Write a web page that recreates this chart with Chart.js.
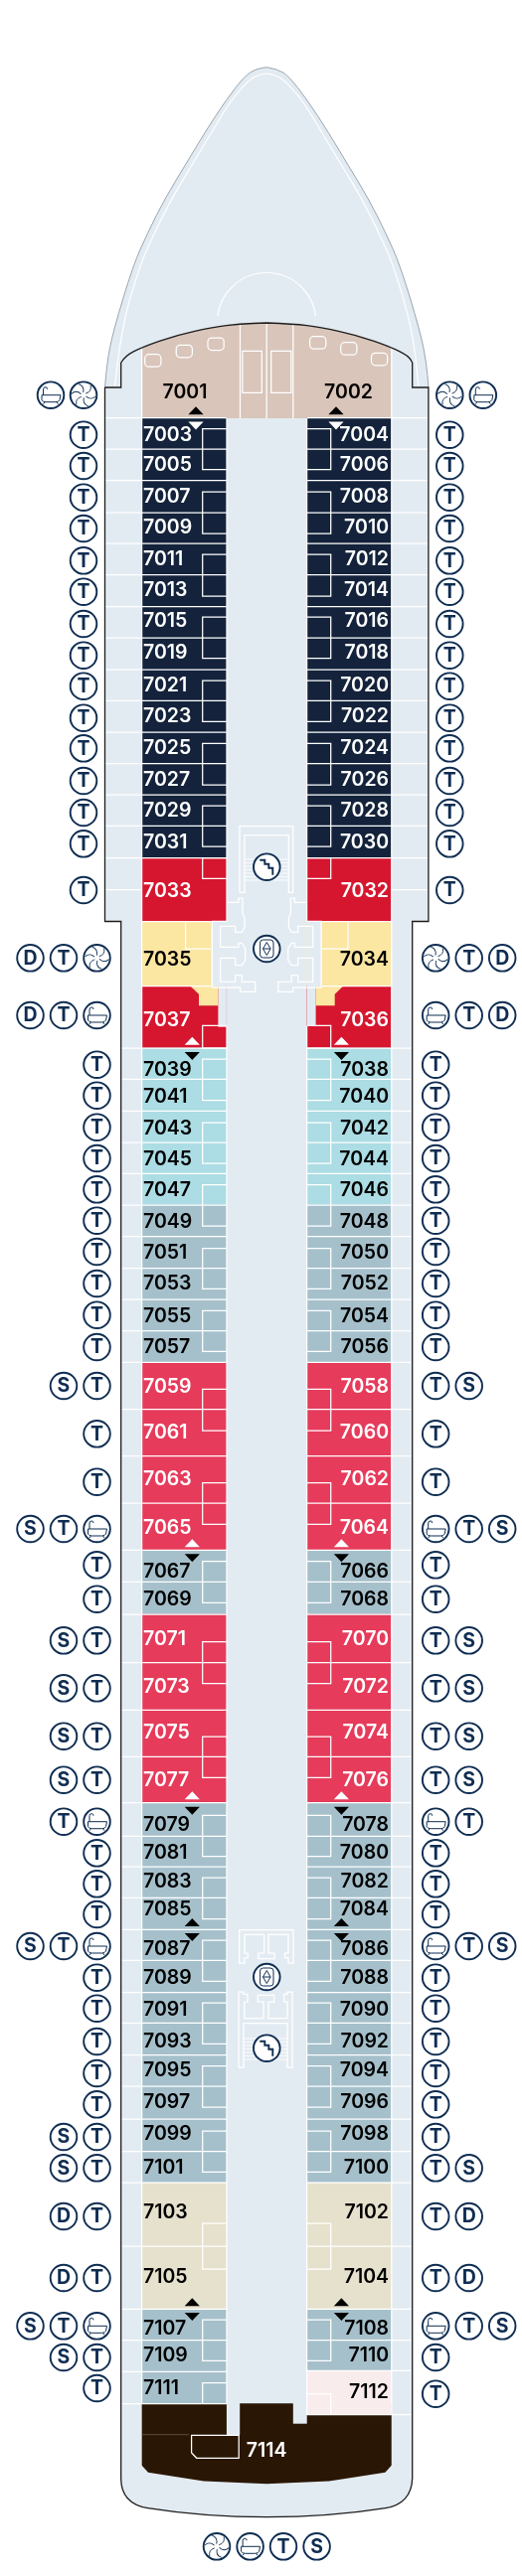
<!DOCTYPE html>
<html>
<head>
<meta charset="utf-8">
<title>Deck 7</title>
<script src="https://cdn.jsdelivr.net/npm/chart.js@4/dist/chart.umd.min.js"></script>
<style>
  html, body { margin: 0; padding: 0; background: #fff; }
  canvas { display: block; }
</style>
</head>
<body>
<canvas id="deck" width="525" height="2593"></canvas>
<script>
// cabins, top to bottom
const portCabins = [7001, 7003, 7005, 7007, 7009, 7011, 7013, 7015, 7019, 7021, 7023, 7025, 7027, 7029, 7031, 7033, 7035, 7037, 7039, 7041, 7043, 7045, 7047, 7049, 7051, 7053, 7055, 7057, 7059, 7061, 7063, 7065, 7067, 7069, 7071, 7073, 7075, 7077, 7079, 7081, 7083, 7085, 7087, 7089, 7091, 7093, 7095, 7097, 7099, 7101, 7103, 7105, 7107, 7109, 7111];
const starboardCabins = [7002, 7004, 7006, 7008, 7010, 7012, 7014, 7016, 7018, 7020, 7022, 7024, 7026, 7028, 7030, 7032, 7034, 7036, 7038, 7040, 7042, 7044, 7046, 7048, 7050, 7052, 7054, 7056, 7058, 7060, 7062, 7064, 7066, 7068, 7070, 7072, 7074, 7076, 7078, 7080, 7082, 7084, 7086, 7088, 7090, 7092, 7094, 7096, 7098, 7100, 7102, 7104, 7108, 7110, 7112];

// where each row starts and ends along the ship
const portEdges = [325, 420.7, 452, 483.7, 516, 547, 578.7, 610.7, 642, 674, 705.3, 737, 768.7, 800, 831.3, 863.7, 927.5, 992.7, 1055, 1086.3, 1118.3, 1150, 1181.3, 1213, 1244.7, 1276.7, 1308, 1339.7, 1371.3, 1418.7, 1465.7, 1513, 1560.3, 1592.3, 1625, 1673.7, 1721.3, 1768.3, 1814.7, 1848.3, 1879, 1910.3, 1942.3, 1973.3, 2005.7, 2036.3, 2068.7, 2100, 2133, 2165.7, 2197, 2261, 2324.3, 2355.7, 2387.3, 2419.7];
const starboardEdges = [325, 420.7, 452, 483.7, 516, 547, 578.7, 610.7, 642, 674, 705.3, 737, 768.7, 800, 831.3, 863.7, 927.5, 992.7, 1055, 1086.3, 1118.3, 1150, 1181.3, 1213, 1244.7, 1276.7, 1308, 1339.7, 1371.3, 1418.7, 1465.7, 1513, 1560.3, 1592.3, 1625, 1673.7, 1721.3, 1768.3, 1814.7, 1848.3, 1879, 1910.3, 1942.3, 1973.3, 2005.7, 2036.3, 2068.7, 2100, 2133, 2165.7, 2197, 2261, 2324.3, 2355.7, 2386.3, 2430.7];

// cabin grades
const portGrades = ["tan", "navy", "navy", "navy", "navy", "navy", "navy", "navy", "navy", "navy", "navy", "navy", "navy", "navy", "navy", "red", "yellow", "red", "aqua", "aqua", "aqua", "aqua", "aqua", "steel", "steel", "steel", "steel", "steel", "rose", "rose", "rose", "rose", "steel", "steel", "rose", "rose", "rose", "rose", "steel", "steel", "steel", "steel", "steel", "steel", "steel", "steel", "steel", "steel", "steel", "steel", "sand", "sand", "steel", "steel", "steel"];
const starboardGrades = ["tan", "navy", "navy", "navy", "navy", "navy", "navy", "navy", "navy", "navy", "navy", "navy", "navy", "navy", "navy", "red", "yellow", "red", "aqua", "aqua", "aqua", "aqua", "aqua", "steel", "steel", "steel", "steel", "steel", "rose", "rose", "rose", "rose", "steel", "steel", "rose", "rose", "rose", "rose", "steel", "steel", "steel", "steel", "steel", "steel", "steel", "steel", "steel", "steel", "steel", "steel", "sand", "sand", "steel", "steel", "blush"];

// amenity badges per cabin, hull side first (B bath, W whirlpool)
const portAmenities = ["WB", "T", "T", "T", "T", "T", "T", "T", "T", "T", "T", "T", "T", "T", "T", "T", "WTD", "BTD", "T", "T", "T", "T", "T", "T", "T", "T", "T", "T", "TS", "T", "T", "BTS", "T", "T", "TS", "TS", "TS", "TS", "BT", "T", "T", "T", "BTS", "T", "T", "T", "T", "T", "TS", "TS", "TD", "TD", "BTS", "TS", "T"];
const starboardAmenities = ["WB", "T", "T", "T", "T", "T", "T", "T", "T", "T", "T", "T", "T", "T", "T", "T", "WTD", "BTD", "T", "T", "T", "T", "T", "T", "T", "T", "T", "T", "TS", "T", "T", "BTS", "T", "T", "TS", "TS", "TS", "TS", "BT", "T", "T", "T", "BTS", "T", "T", "T", "T", "T", "T", "TS", "TD", "TD", "BTS", "T", "T"];
const aftAmenities = "WBTS";
const aftCabin = 7114;

// ---- layout and colours ----
const palette = { tan: "#d9c5ba", navy: "#14233b", red: "#d6162f", yellow: "#fbe6a2", aqua: "#acdce4", steel: "#a5c0cb", rose: "#e63b5b", sand: "#e6e1cc", blush: "#f9eced", dark: "#2a1604" };
const lightText = ["navy", "red", "rose", "dark"];
const HULL = "#e3ebf2", INK = "#0f2d52", MID = 268.2;
const portLabelY = [395, 438, 468.5, 500, 531, 562.7, 594, 625.3, 657, 690, 721, 753.3, 785, 816, 848.3, 897.3, 966, 1027.3, 1077, 1104, 1136, 1167.3, 1198.3, 1230, 1261.3, 1292.3, 1325.3, 1356, 1396.3, 1442.3, 1489.3, 1538.3, 1582.3, 1610.3, 1650.3, 1698.3, 1744, 1792.3, 1837.3, 1865, 1894.3, 1922.3, 1962.3, 1991, 2023.3, 2055.3, 2084.3, 2116, 2148.3, 2182, 2227.3, 2292.3, 2344, 2370.7, 2404];
const badgeY = [397.7, 437.7, 469, 500.7, 532, 564.3, 595.7, 628, 659.7, 690.7, 722.7, 753.3, 786, 818, 849.3, 896, 964.3, 1022, 1071.7, 1102.7, 1134.7, 1166, 1197.3, 1228.7, 1260, 1292, 1323.7, 1356, 1395, 1443.3, 1491.7, 1539, 1575.3, 1609.7, 1651.3, 1699.3, 1747.7, 1791.7, 1833.7, 1865.3, 1896.3, 1927, 1959, 1990.7, 2021.7, 2055, 2087, 2118.3, 2151, 2182.3, 2231, 2293, 2341.3, 2373, 2404];
const bathBoxes = [[431.7, 472.7], [495, 537], [558, 600], [621, 662.7], [685, 726.3], [748.3, 790], [811, 852], [863.7, 884.3], [1032.3, 1055], [1066, 1107.7], [1130, 1171], [1192.7, 1234], [1256.7, 1297.3], [1319.3, 1360.3], [1398.3, 1440], [1492.7, 1534.3], [1571.7, 1613.3], [1652.7, 1694.7], [1748, 1789.3], [1827.3, 1868.7], [1890, 1931.7], [1953, 1994.3], [2016, 2057.3], [2079.7, 2121], [2145, 2186.3], [2238, 2284], [2335, 2376.3]];
const arrows = [[197, 413.3, "up", "#000"], [338, 413.3, "up", "#000"], [197, 428.5, "down", "#fff"], [338, 428.5, "down", "#fff"],
  [193.3, 1047.7, "up", "#fff"], [343.4, 1047.7, "up", "#fff"], [193.3, 1063, "down", "#000"], [343.4, 1063, "down", "#000"],
  [193.3, 1553.3, "up", "#fff"], [343.4, 1553.3, "up", "#fff"], [193.3, 1568.3, "down", "#000"], [343.4, 1568.3, "down", "#000"],
  [193.3, 1807.3, "up", "#fff"], [343.4, 1807.3, "up", "#fff"], [193.3, 1822.7, "down", "#000"], [343.4, 1822.7, "down", "#000"],
  [193.3, 1935, "up", "#000"], [343.4, 1935, "up", "#000"], [193.3, 1950, "down", "#000"], [343.4, 1950, "down", "#000"],
  [193.3, 2317.3, "up", "#000"], [343.4, 2317.3, "up", "#000"], [193.3, 2332, "down", "#000"], [343.4, 2332, "down", "#000"]];
const bowOuter = [[105.5, 390], [107.5, 365], [113.9, 333.3], [134, 266.7], [149, 233.3], [165.8, 200], [186, 166.7], [206, 133.3], [227.8, 100], [246, 76.7], [257, 69.5], [268.2, 67.7]];
const bowInner = [[115.6, 388.3], [121.3, 333], [140.7, 266.7], [155.8, 233.3], [172.5, 200], [192.6, 166.7], [212.7, 133.3], [232.8, 100], [249.6, 81.7], [259, 75.5], [268.2, 74]];
const suiteTop = [[121.7, 365], [125.6, 358.3], [143, 349.3], [177.5, 337.3], [214.4, 329.3], [241.2, 326], [268.2, 325]];
const lobbyFwd = [[85, 265], [120, 265], [120, 252], [132, 252], [132, 300], [138, 310], [138, 340], [130, 355], [110, 355], [110, 337], [65, 337], [65, 400], [120, 400], [120, 388], [130, 388], [140, 405], [140, 440], [130, 455], [110, 455], [110, 433], [65, 433], [65, 505], [110, 505], [110, 485], [130, 485], [130, 505], [170, 505], [170, 535], [125, 535], [125, 522], [40, 522], [40, 322], [85, 322]];
const lobbyAftUpper = [[122, 128], [122, 228], [138, 228], [138, 212], [148, 212], [148, 198], [138, 198], [138, 142], [197, 142], [197, 198], [180, 198], [180, 215], [228, 215], [228, 198], [210, 198], [210, 142], [270, 142], [270, 198], [260, 198], [260, 212], [270, 212], [270, 228], [285, 228], [285, 128]];
const lobbyAftLower = [[120, 543], [120, 315], [135, 315], [135, 322], [147, 322], [147, 345], [137, 345], [137, 395], [195, 395], [195, 345], [178, 345], [178, 325], [227, 325], [227, 345], [210, 345], [210, 395], [267, 395], [267, 345], [257, 345], [257, 322], [267, 322], [267, 315], [282, 315], [282, 543], [267, 543], [267, 410], [135, 410], [135, 543], [120, 543]];

function cabinBars(edges, x) {
  return edges.slice(1).map((bottom, i) => ({ x: x, y: [edges[i], bottom] }));
}

// hull, linework, labels and badges all go through the chart's scales
const deckPlan = {
  id: "deckPlan",
  beforeDatasetsDraw(chart) {
    const d = tools(chart);
    const c = chart.ctx;
    c.save();
    d.path(bowOuter);
    d.path(bowOuter.slice().reverse().map(p => [2 * MID - p[0], p[1]]), true);
    c.lineTo(d.X(2 * MID - 105.5), d.Y(927.5));
    c.lineTo(d.X(2 * MID - 121.7), d.Y(927.5));
    c.lineTo(d.X(2 * MID - 121.7), d.Y(2494.7));
    c.bezierCurveTo(d.X(414), d.Y(2514), d.X(403), d.Y(2522), d.X(387.7), d.Y(2524.7));
    c.quadraticCurveTo(d.X(331), d.Y(2533.7), d.X(MID), d.Y(2533.7));
    c.quadraticCurveTo(d.X(205), d.Y(2533.7), d.X(148.7), d.Y(2524.7));
    c.bezierCurveTo(d.X(133), d.Y(2522), d.X(121.7), d.Y(2514), d.X(121.7), d.Y(2494.7));
    c.lineTo(d.X(121.7), d.Y(927.5));
    c.lineTo(d.X(105.5), d.Y(927.5));
    c.closePath();
    c.fillStyle = HULL;
    c.fill();
    // bow edge
    c.strokeStyle = "#9aa6ae";
    c.lineWidth = 1;
    d.path(bowOuter);
    d.path(bowOuter.slice().reverse().map(p => [2 * MID - p[0], p[1]]), true);
    c.stroke();
    c.strokeStyle = "#fff";
    c.lineWidth = 1.2;
    d.path(bowInner);
    d.path(bowInner.slice().reverse().map(p => [2 * MID - p[0], p[1]]), true);
    c.stroke();
    c.beginPath();
    c.arc(d.X(MID), d.Y(324), 49.5, Math.PI, 0);
    c.stroke();
    c.restore();
  },
  afterDatasetsDraw(chart) {
    const d = tools(chart);
    const c = chart.ctx;
    c.save();
    const rect = (x0, y0, x1, y1, col) => { c.fillStyle = col; c.fillRect(d.X(x0), d.Y(y0), d.X(x1) - d.X(x0), d.Y(y1) - d.Y(y0)); };

    // cut the suites to the curved bulkhead
    const top = suiteTop.slice(1);
    d.path(top);
    d.path(top.slice().reverse().map(p => [2 * MID - p[0], p[1]]), true);
    c.lineTo(d.X(400), d.Y(318));
    c.lineTo(d.X(136), d.Y(318));
    c.closePath();
    c.fillStyle = HULL;
    c.fill();

    // cut 7035/7034 and 7037/7036 to shape
    rect(212.3, 928, 227.9, 993, HULL);
    rect(219.4, 993, 227.9, 1032.3, HULL);
    rect(308.7, 928, 323.6, 993, HULL);
    rect(308.7, 993, 317.6, 1032.3, HULL);
    c.fillStyle = palette.yellow;
    d.poly([[191.6, 992.7], [219.4, 992.7], [219.4, 1012.3], [200, 1012.3], [200, 1000.7]], true); c.fill();
    d.poly([[317.6, 992.7], [345, 992.7], [336.7, 1000.7], [336.7, 1012.3], [317.6, 1012.3]], true); c.fill();

    // cut 7114
    rect(227.9, 2419, 241.2, 2451, HULL);
    rect(294.8, 2419, 308.7, 2439.7, HULL);
    d.poly([[142, 2481], [149, 2488.7], [205, 2497.5], [MID, 2500.3], [331, 2497.5], [387.4, 2488.7], [394.4, 2481], [394.4, 2510], [142, 2510]], true);
    c.fillStyle = HULL;
    c.fill();

    // white partitions
    c.strokeStyle = "#fff";
    c.lineWidth = 1.25;
    const line = pts => { d.poly(pts); c.stroke(); };
    portEdges.slice(1).forEach(y => {
      const outer = y < 927 ? 106 : 122.2;
      if (y !== 927.5 && y !== 992.7) line([[outer, y], [227.9, y]]);
      else line([[143, y], [212.3, y]]);
    });
    starboardEdges.slice(1).forEach(y => {
      const outer = y < 927 ? 430 : 413.4;
      if (y !== 927.5 && y !== 992.7) line([[308.7, y], [outer, y]]);
      else line([[323.6, y], [393.3, y]]);
    });
    line([[106, 895.5], [143, 895.5]]);
    line([[393.3, 895.5], [430, 895.5]]);
    line([[142.6, 349], [142.6, 2419.7]]);
    line([[393.8, 349], [393.8, 2430.7]]);
    line([[228, 421], [228, 928]]);
    line([[219.4, 1033], [228, 1033]]);
    line([[228, 1033], [228, 2419.7]]);
    line([[308.6, 421], [308.6, 928]]);
    line([[308.6, 1033], [308.6, 2430.7]]);
    bathBoxes.forEach(b => {
      line([[227.9, b[0]], [203.7, b[0]], [203.7, b[1]], [227.9, b[1]]]);
      line([[308.7, b[0]], [332.7, b[0]], [332.7, b[1]], [308.7, b[1]]]);
    });
    line([[227.9, 2398.7], [203.7, 2398.7], [203.7, 2419.7]]);
    line([[308.7, 2409.7], [332.7, 2409.7], [332.7, 2430.7]]);
    line([[186.6, 928], [186.6, 955], [212.3, 955]]);
    line([[350, 928], [350, 955], [323.6, 955]]);

    // suite 7001/7002 fittings
    line([[241.5, 326], [241.5, 421]]);
    line([[268.2, 325], [268.2, 421]]);
    line([[294.8, 326], [294.8, 421]]);
    d.poly([[243.9, 353.3], [263.3, 353.3], [263.3, 395.3], [243.9, 395.3]], true); c.stroke();
    d.poly([[272.7, 353.3], [292.8, 353.3], [292.8, 395.3], [272.7, 395.3]], true); c.stroke();
    [[145.7, 356.7], [177.2, 347.3], [209, 340], [311.6, 338.7], [342.7, 344.7], [373.5, 355.3]].forEach(t => {
      c.beginPath();
      c.roundRect(d.X(t[0]), d.Y(t[1]), 16.2, 12.5, 4);
      c.stroke();
    });

    // 7114 fitting
    d.poly([[192.6, 2451.3], [240.2, 2451.3], [240.2, 2474.3], [197.7, 2474.3], [192.6, 2469]], true); c.stroke();
    c.strokeStyle = "#6a5a4a";
    c.lineWidth = 0.8;
    line([[143, 2450.7], [190, 2450.7]]);
    c.strokeStyle = "#fff";
    c.lineWidth = 1.25;

    // lobbies and stairs, traced in a 3x grid
    const fwd = p => [200 + p[0] / 3, 820 + p[1] / 3];
    const aft = p => [200 + p[0] / 3, 1900 + p[1] / 3];
    const flip = p => [2 * MID - p[0], p[1]];
    d.poly(lobbyFwd.map(fwd)); c.stroke();
    d.poly(lobbyFwd.map(fwd).map(flip)); c.stroke();
    d.poly(lobbyAftUpper.map(aft), true); c.stroke();
    d.poly(lobbyAftLower.map(aft)); c.stroke();
    line([[241, 898.3], [241, 831.7], [294.7, 831.7], [294.7, 898.3], [290.3, 898.3], [290.3, 840.7], [246, 840.7], [246, 898.3], [241, 898.3]]);
    c.lineWidth = 0.8;
    for (const y of [865, 868.5, 872, 875.5, 879, 882.5, 886]) line([[246, y], [290, y]]);
    for (const y of [2052, 2055.5, 2059, 2062.5, 2066, 2069.5, 2073]) line([[245, y], [289, y]]);

    // hull outline
    c.strokeStyle = "#1c1c1c";
    c.lineWidth = 1.3;
    d.poly([[105.5, 390], [121.7, 390], [121.7, 365]]);
    c.stroke();
    d.path(suiteTop);
    d.path(suiteTop.slice().reverse().map(flip), true);
    c.stroke();
    d.poly([[2 * MID - 121.7, 365], [2 * MID - 121.7, 390], [2 * MID - 105.5, 390], [2 * MID - 105.5, 927.5], [2 * MID - 121.7, 927.5], [2 * MID - 121.7, 2494.7]]);
    c.bezierCurveTo(d.X(414), d.Y(2514), d.X(403), d.Y(2522), d.X(387.7), d.Y(2524.7));
    c.quadraticCurveTo(d.X(331), d.Y(2533.7), d.X(MID), d.Y(2533.7));
    c.quadraticCurveTo(d.X(205), d.Y(2533.7), d.X(148.7), d.Y(2524.7));
    c.bezierCurveTo(d.X(133), d.Y(2522), d.X(121.7), d.Y(2514), d.X(121.7), d.Y(2494.7));
    c.lineTo(d.X(121.7), d.Y(927.5));
    c.lineTo(d.X(105.5), d.Y(927.5));
    c.lineTo(d.X(105.5), d.Y(390));
    c.stroke();

    // stairway arrows
    arrows.forEach(a => {
      const dir = a[2] === "up" ? -1 : 1;
      c.fillStyle = a[3];
      d.poly([[a[0] - 7.6, a[1] - 4 * dir], [a[0] + 7.6, a[1] - 4 * dir], [a[0], a[1] + 4 * dir]], true);
      c.fill();
    });

    // cabin numbers
    c.font = "600 19.5px Inter";
    c.textBaseline = "middle";
    const label = (text, x, y, grade, align) => {
      c.textAlign = align;
      c.fillStyle = lightText.includes(grade) ? "#fff" : "#000";
      c.fillText(String(text), d.X(x), d.Y(y));
    };
    portCabins.forEach((n, i) => {
      if (i === 0) label(n, 186, portLabelY[i], portGrades[i], "center");
      else label(n, 144, portLabelY[i], portGrades[i], "left");
    });
    starboardCabins.forEach((n, i) => {
      const y = n === 7112 ? 2408 : portLabelY[i];
      if (i === 0) label(n, 350.5, y, starboardGrades[i], "center");
      else label(n, 391, y, starboardGrades[i], "right");
    });
    label(aftCabin, MID, 2467, "dark", "center");

    // amenity badges
    portAmenities.forEach((set, i) => {
      const cols = i === 0 ? [84, 51] : (i < 16 ? [84] : [97.5, 64, 30.5]);
      set.split("").forEach((kind, k) => badge(chart, kind, cols[k], badgeY[i]));
    });
    starboardAmenities.forEach((set, i) => {
      const cols = i === 0 ? [452.3, 485.8] : (i < 16 ? [452.3] : [438.2, 471.7, 505.2]);
      const y = starboardCabins[i] === 7112 ? 2409.7 : badgeY[i];
      set.split("").forEach((kind, k) => badge(chart, kind, cols[k], y));
    });
    aftAmenities.split("").forEach((kind, k) => badge(chart, kind, [218, 251.6, 285, 318.6][k], 2563.3));
    badge(chart, "stairs", 268.3, 872.7);
    badge(chart, "lift", 268.3, 955);
    badge(chart, "lift", 268.3, 1990);
    badge(chart, "stairs", 268.3, 2061.7);
    c.restore();
  }
};

function tools(chart) {
  const sx = chart.scales.x, sy = chart.scales.y, c = chart.ctx;
  const X = v => sx.getPixelForValue(v);
  const Y = v => sy.getPixelForValue(v);
  return {
    X, Y,
    // straight segments
    poly(pts, close) {
      c.beginPath();
      pts.forEach((p, i) => i ? c.lineTo(X(p[0]), Y(p[1])) : c.moveTo(X(p[0]), Y(p[1])));
      if (close) c.closePath();
    },
    // smoothed run through the points
    path(pts, append) {
      if (append) c.lineTo(X(pts[0][0]), Y(pts[0][1]));
      else { c.beginPath(); c.moveTo(X(pts[0][0]), Y(pts[0][1])); }
      for (let i = 1; i < pts.length - 1; i++) {
        const mx = (pts[i][0] + pts[i + 1][0]) / 2, my = (pts[i][1] + pts[i + 1][1]) / 2;
        c.quadraticCurveTo(X(pts[i][0]), Y(pts[i][1]), X(mx), Y(my));
      }
      const last = pts[pts.length - 1];
      c.lineTo(X(last[0]), Y(last[1]));
    }
  };
}

function badge(chart, kind, vx, vy) {
  const c = chart.ctx;
  const x = chart.scales.x.getPixelForValue(vx), y = chart.scales.y.getPixelForValue(vy);
  c.save();
  c.translate(x, y);
  c.beginPath();
  c.arc(0, 0, 13.3, 0, Math.PI * 2);
  c.fillStyle = "#fff";
  c.fill();
  c.lineWidth = 1.9;
  c.strokeStyle = INK;
  c.stroke();
  c.fillStyle = INK;
  c.lineWidth = 1;
  if (kind === "T" || kind === "S" || kind === "D") {
    c.font = "700 19.5px Inter";
    c.textAlign = "center";
    c.textBaseline = "middle";
    c.fillText(kind, 0, 0.5);
  } else if (kind === "B") {
    c.beginPath();
    c.moveTo(-9, 0); c.lineTo(10, 0); c.lineTo(9, 5);
    c.quadraticCurveTo(8, 7, 5, 7); c.lineTo(-5, 7);
    c.quadraticCurveTo(-8, 7, -9, 5); c.closePath();
    c.moveTo(-7.5, 0); c.lineTo(-7.5, -6);
    c.quadraticCurveTo(-7.5, -8, -5, -8); c.quadraticCurveTo(-3.5, -8, -3.5, -6);
    c.moveTo(-6, 7); c.lineTo(-7.5, 9);
    c.moveTo(6, 7); c.lineTo(7.5, 9);
    c.stroke();
  } else if (kind === "W") {
    c.lineWidth = 0.9;
    for (let k = 0; k < 6; k++) {
      c.save();
      c.rotate(k * Math.PI / 3);
      c.beginPath();
      c.moveTo(2.2, -1.6);
      c.quadraticCurveTo(8.5, -3.5, 7.2, -9.8);
      c.stroke();
      c.restore();
    }
  } else if (kind === "stairs") {
    c.lineWidth = 1.9;
    c.beginPath();
    c.moveTo(-7, -7); c.lineTo(-2, -7); c.lineTo(-2, -3); c.lineTo(2, -3);
    c.lineTo(2, 1); c.lineTo(6, 1); c.lineTo(6, 8);
    c.stroke();
  } else if (kind === "lift") {
    c.lineWidth = 1;
    c.beginPath();
    c.roundRect(-6.7, -9, 13.4, 18, 3);
    c.moveTo(0, -6.5); c.lineTo(3.8, 0); c.lineTo(0, 6.5); c.lineTo(-3.8, 0); c.closePath();
    c.moveTo(-3.8, 0); c.lineTo(3.8, 0);
    c.stroke();
  }
  c.restore();
}

new Chart(document.getElementById("deck"), {
  type: "bar",
  data: {
    datasets: [
      { label: "Port", data: cabinBars(portEdges, 185.35), backgroundColor: portGrades.map(g => palette[g]), barThickness: 84.7 },
      { label: "Starboard", data: cabinBars(starboardEdges, 351.15), backgroundColor: starboardGrades.map(g => palette[g]), barThickness: 84.5 },
      { label: "Forward suite", data: [{ x: 268.3, y: [325, 420.7] }], backgroundColor: palette.tan, barThickness: 81.5 },
      { label: "Aft suite", data: [{ x: 268.2, y: [2419.7, 2505] }], backgroundColor: palette.dark, barThickness: 250.4 }
    ]
  },
  options: {
    responsive: false,
    animation: false,
    events: [],
    layout: { padding: 0 },
    datasets: { bar: { grouped: false, borderWidth: 0 } },
    plugins: { legend: { display: false }, tooltip: { enabled: false } },
    scales: {
      x: { type: "linear", min: 0, max: 525, display: false, offset: false },
      y: { type: "linear", min: 0, max: 2593, reverse: true, display: false, beginAtZero: false }
    }
  },
  plugins: [deckPlan]
});
</script>
</body>
</html>
